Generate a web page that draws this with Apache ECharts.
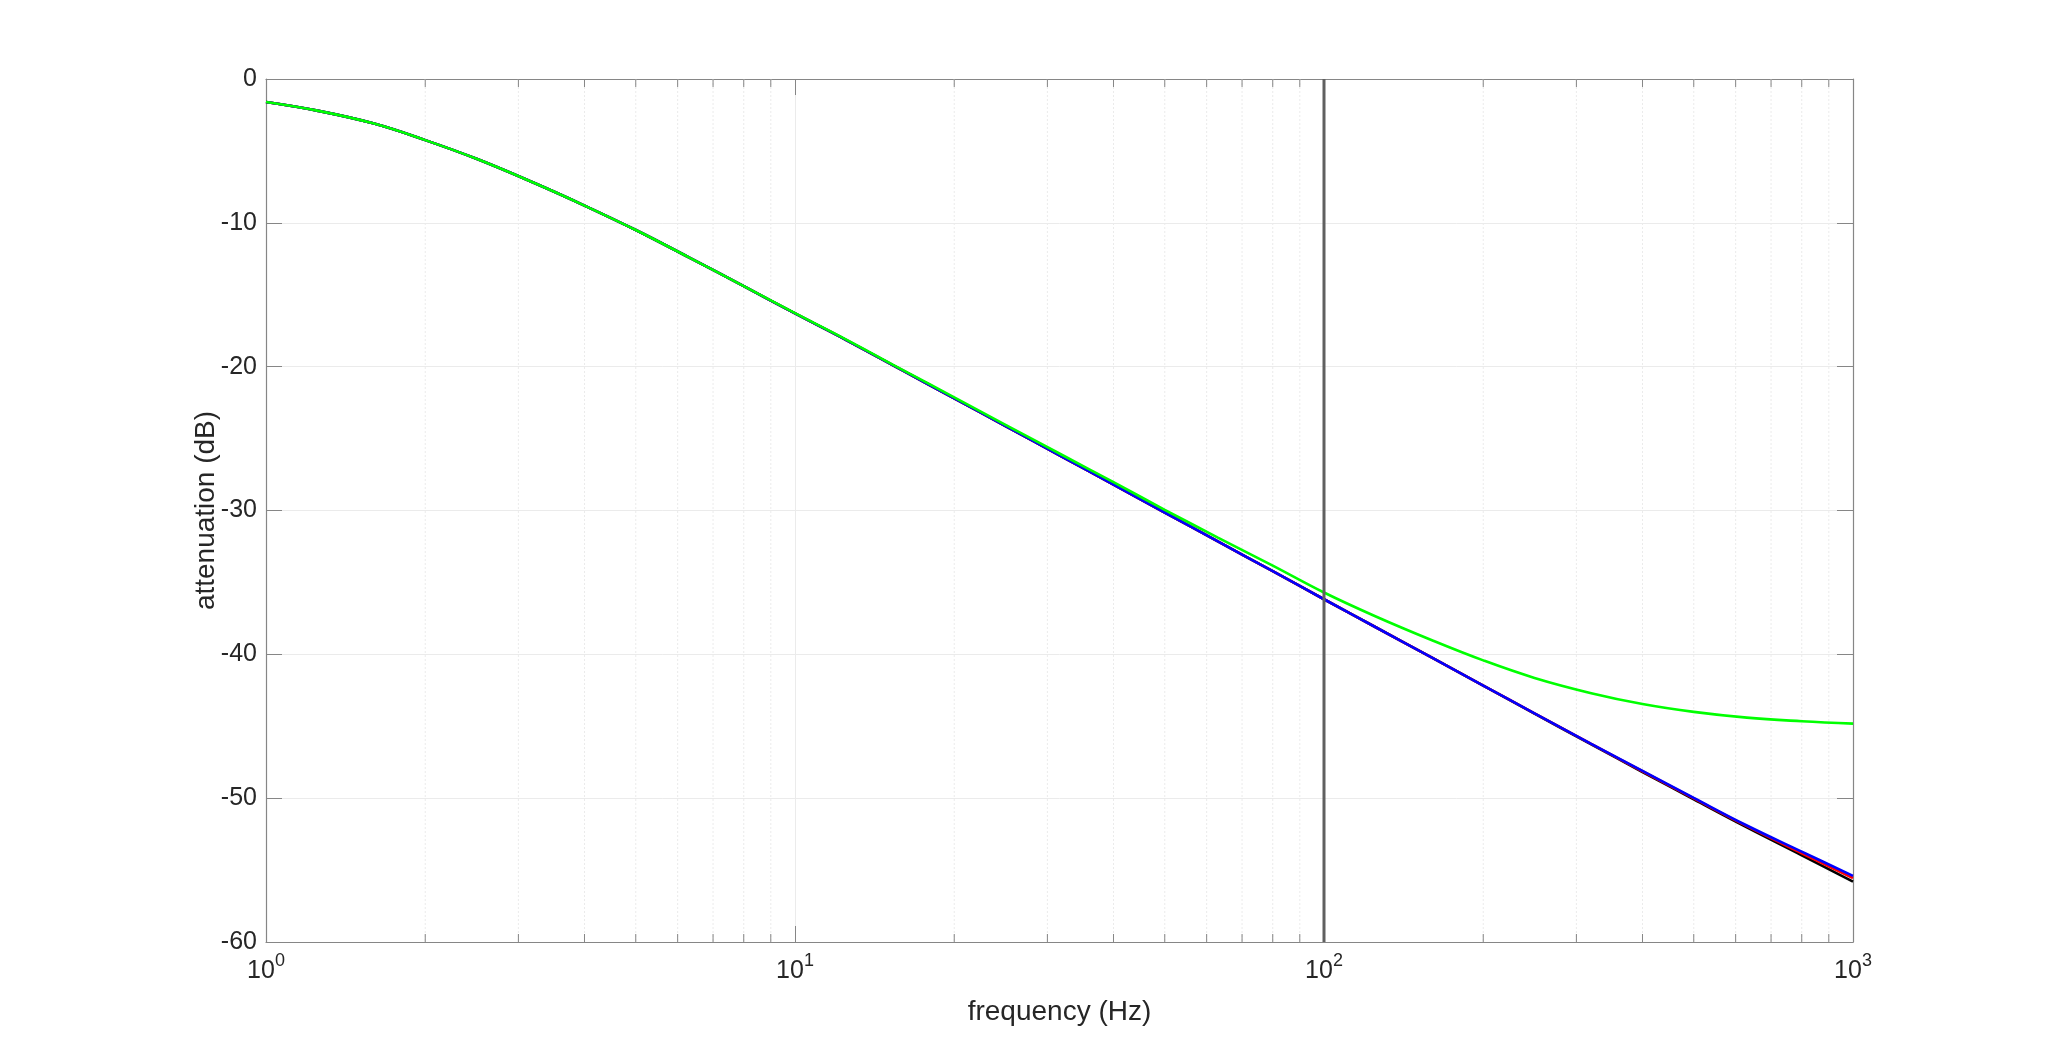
<!DOCTYPE html>
<html>
<head>
<meta charset="utf-8">
<title>attenuation</title>
<script src="https://cdn.jsdelivr.net/npm/echarts@6/dist/echarts.min.js"></script>
<style>
    html, body { margin: 0; padding: 0; background: #fff; }
    #main { width: 2048px; height: 1059px; }
</style>
</head>
<body>
<div id="main"></div>
<script>
// frequencies (Hz) the curves were read at
var freqs = [1, 1.25, 1.6, 2, 2.5, 3.2, 4, 5, 6.3, 8, 10, 12.5, 16, 20, 25, 32, 40, 50, 63, 80, 100, 125, 160, 200, 250, 320, 400, 500, 630, 800, 1000];

// attenuation (dB)
var blackData = [-1.6, -2.2, -3.1, -4.25, -5.55, -7.2, -8.8, -10.5, -12.4, -14.4, -16.3, -18.15, -20.28, -22.2, -24.13, -26.27, -28.2, -30.14, -32.15, -34.22, -36.17, -38.1, -40.23, -42.17, -44.12, -46.26, -48.18, -50.08, -52.03, -53.97, -55.8];
var redData   = [-1.6, -2.2, -3.1, -4.25, -5.55, -7.2, -8.8, -10.5, -12.4, -14.4, -16.3, -18.15, -20.28, -22.2, -24.13, -26.27, -28.2, -30.14, -32.15, -34.22, -36.17, -38.1, -40.23, -42.17, -44.1, -46.23, -48.13, -50.02, -51.95, -53.83, -55.55];
var blueData  = [-1.6, -2.2, -3.1, -4.25, -5.55, -7.2, -8.8, -10.5, -12.4, -14.4, -16.3, -18.15, -20.28, -22.2, -24.13, -26.27, -28.2, -30.14, -32.15, -34.22, -36.17, -38.1, -40.23, -42.17, -44.1, -46.22, -48.1, -49.98, -51.9, -53.72, -55.4];
var greenData = [-1.6, -2.2, -3.1, -4.25, -5.55, -7.2, -8.8, -10.5, -12.4, -14.4, -16.28, -18.12, -20.24, -22.13, -24.04, -26.14, -28.03, -29.95, -31.88, -33.83, -35.7, -37.35, -39.02, -40.42, -41.64, -42.7, -43.45, -44.0, -44.4, -44.65, -44.82];

// vertical marker
var markerFreq = 100;

// minor grid positions on the log axis
var minorFreqs = [2, 3, 4, 5, 6, 7, 8, 9, 20, 30, 40, 50, 60, 70, 80, 90, 200, 300, 400, 500, 600, 700, 800, 900];

// y axis
var yMin = -60;
var yMax = 0;
var yStep = 10;

var axisGray = '#868686';
var textGray = '#262626';
var gridGray = '#ebebeb';
var fontName = '"Liberation Sans", Arial, Helvetica, sans-serif';

var myChart = echarts.init(document.getElementById('main'));

function pairs(xs, ys) {
    var out = [];
    for (var i = 0; i < xs.length; i++) {
        out.push([xs[i], ys[i]]);
    }
    return out;
}

function curve(name, color, data) {
    return {
        name: name,
        type: 'line',
        data: pairs(freqs, data),
        showSymbol: false,
        smooth: 0.4,
        lineStyle: { color: color, width: 2.6 },
        itemStyle: { color: color },
        z: 3
    };
}

// minor dotted grid lines and the short inner ticks top and bottom
function renderMinor(params, api) {
    var f = api.value(0);
    var top = api.coord([f, yMax]);
    var bottom = api.coord([f, yMin]);
    return {
        type: 'group',
        children: [
            {
                type: 'line',
                shape: { x1: top[0], y1: top[1], x2: bottom[0], y2: bottom[1] },
                style: { stroke: gridGray, lineWidth: 1, lineDash: [2, 2] }
            },
            {
                type: 'line',
                shape: { x1: bottom[0], y1: bottom[1], x2: bottom[0], y2: bottom[1] - 8 },
                style: { stroke: axisGray, lineWidth: 1 }
            },
            {
                type: 'line',
                shape: { x1: top[0], y1: top[1], x2: top[0], y2: top[1] + 8 },
                style: { stroke: axisGray, lineWidth: 1 }
            }
        ]
    };
}

function xLabel(value) {
    var e = Math.round(Math.log(value) / Math.LN10);
    return '{b|10}{s|' + e + '}';
}

var option = {
    backgroundColor: '#ffffff',
    animation: false,
    textStyle: { fontFamily: fontName },
    grid: {
        left: 266,
        right: 195,
        top: 79,
        bottom: 117,
        containLabel: false
    },
    xAxis: [
        {
            type: 'log',
            logBase: 10,
            min: 1,
            max: 1000,
            name: 'frequency (Hz)',
            nameLocation: 'middle',
            nameGap: 56,
            nameMoveOverlap: false,
            nameTextStyle: { color: textGray, fontSize: 28, fontFamily: fontName },
            axisLine: { show: true, onZero: false, lineStyle: { color: axisGray, width: 1.2 } },
            axisTick: { show: true, inside: true, length: 16, lineStyle: { color: axisGray } },
            minorTick: { show: false },
            axisLabel: {
                margin: 10,
                formatter: xLabel,
                rich: {
                    b: { fontSize: 25, color: textGray, fontFamily: fontName, verticalAlign: 'bottom', lineHeight: 32 },
                    s: { fontSize: 18, color: textGray, fontFamily: fontName, verticalAlign: 'top', lineHeight: 32 }
                }
            },
            splitLine: { show: true, lineStyle: { color: gridGray, width: 1 } }
        },
        {
            type: 'log',
            logBase: 10,
            min: 1,
            max: 1000,
            position: 'top',
            axisLine: { show: true, onZero: false, lineStyle: { color: axisGray, width: 1.2 } },
            axisTick: { show: true, inside: true, length: 16, lineStyle: { color: axisGray } },
            axisLabel: { show: false },
            splitLine: { show: false }
        }
    ],
    yAxis: [
        {
            type: 'value',
            min: yMin,
            max: yMax,
            interval: yStep,
            name: 'attenuation (dB)',
            nameLocation: 'middle',
            nameGap: 46,
            nameMoveOverlap: false,
            nameTextStyle: { color: textGray, fontSize: 28, fontFamily: fontName },
            axisLine: { show: true, onZero: false, lineStyle: { color: axisGray, width: 1.2 } },
            axisTick: { show: true, inside: true, length: 16, lineStyle: { color: axisGray } },
            axisLabel: { color: textGray, fontSize: 25, margin: 9, fontFamily: fontName },
            splitLine: { show: true, lineStyle: { color: gridGray, width: 1 } }
        },
        {
            type: 'value',
            min: yMin,
            max: yMax,
            interval: yStep,
            position: 'right',
            axisLine: { show: true, onZero: false, lineStyle: { color: axisGray, width: 1.2 } },
            axisTick: { show: true, inside: true, length: 16, lineStyle: { color: axisGray } },
            axisLabel: { show: false },
            splitLine: { show: false }
        }
    ],
    series: [
        {
            name: 'minor',
            type: 'custom',
            renderItem: renderMinor,
            data: minorFreqs.map(function (f) { return [f, yMin]; }),
            silent: true,
            z: 1
        },
        curve('black', '#000000', blackData),
        curve('red', '#ff0000', redData),
        curve('blue', '#0000ff', blueData),
        curve('green', '#00ff00', greenData),
        {
            name: 'marker',
            type: 'line',
            data: [[markerFreq, yMin], [markerFreq, yMax]],
            showSymbol: false,
            lineStyle: { color: '#606060', width: 3 },
            z: 4
        }
    ]
};

myChart.setOption(option);
</script>
</body>
</html>
